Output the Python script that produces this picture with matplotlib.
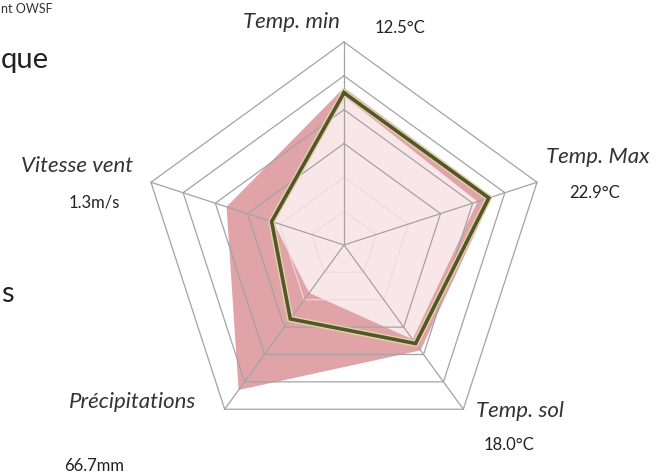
import numpy as np
import matplotlib.pyplot as plt

labels = ['Temp. min', 'Temp. Max', 'Temp. sol', 'Précipitations', 'Vitesse vent']
valeurs = ['12.5°C', '22.9°C', '18.0°C', '66.7mm', '1.3m/s']
# normalised on a 0-6 ring scale
normale = [4.65, 4.6, 3.85, 5.3, 3.65]   # dark pink area
fond = [4.4, 4.15, 3.45, 1.75, 2.2]      # light pink area
mesure = [4.5, 4.5, 3.6, 2.7, 2.25]      # olive line
n_rings = 6

W, H = 657, 475
cx, cy, R = 344, 245, 203   # chart centre / radius in pixels

plt.rcParams['font.family'] = ['Lato', 'DejaVu Sans']

fig = plt.figure(figsize=(W / 100, H / 100), dpi=100)
ax = fig.add_axes([0, 0, 1, 1])
s = R / n_rings
ax.set_xlim(-cx / s, (W - cx) / s)
ax.set_ylim(-(H - cy) / s, cy / s)
ax.axis('off')

angles = np.deg2rad(90 - 72 * np.arange(len(labels)))


def xy(vals):
    v = np.asarray(vals, dtype=float)
    x, y = v * np.cos(angles), v * np.sin(angles)
    return np.append(x, x[0]), np.append(y, y[0])


ax.fill(*xy(normale), color='#e0a4a8', lw=0, zorder=1)
ax.fill(*xy(fond), color='#f9e6e8', lw=0, zorder=2)

# grid
for r in range(1, n_rings + 1):
    if r < 3:
        ax.plot(*xy([r] * 5), color='#ecdadc', lw=0.8, zorder=2.5)
    else:
        ax.plot(*xy([r] * 5), color='#a3a3a3', lw=0.9, zorder=3)
for a in angles:
    ax.plot([0, n_rings * np.cos(a)], [0, n_rings * np.sin(a)],
            color='#a3a3a3', lw=0.9, zorder=3)

ax.plot(*xy(mesure), color='#dcd6a8', lw=4.6, zorder=4, solid_joinstyle='miter')
ax.plot(*xy(mesure), color='#57532a', lw=2.6, zorder=5, solid_joinstyle='miter')


def px(x, y):
    return x / W, 1 - y / H


lab_pos = [(291, 22), (598, 157), (520, 411), (133, 402), (77, 166)]
val_pos = [(400, 28), (595, 193), (509, 445), (94, 466), (94, 203)]
for t, p in zip(labels, lab_pos):
    fig.text(*px(*p), t, ha='center', va='center', fontsize=16,
             style='italic', color='#333333')
for t, p in zip(valeurs, val_pos):
    fig.text(*px(*p), t, ha='center', va='center', fontsize=12, color='#222222')

# slide text at the left edge
fig.text(*px(1, 9), 'nt OWSF', ha='left', va='center', fontsize=9, color='#333333')
fig.text(*px(1, 60), 'que', ha='left', va='center', fontsize=21, color='#222222')
fig.text(*px(1, 294), 's', ha='left', va='center', fontsize=21, color='#222222')

fig.savefig('out.png', dpi=100)
